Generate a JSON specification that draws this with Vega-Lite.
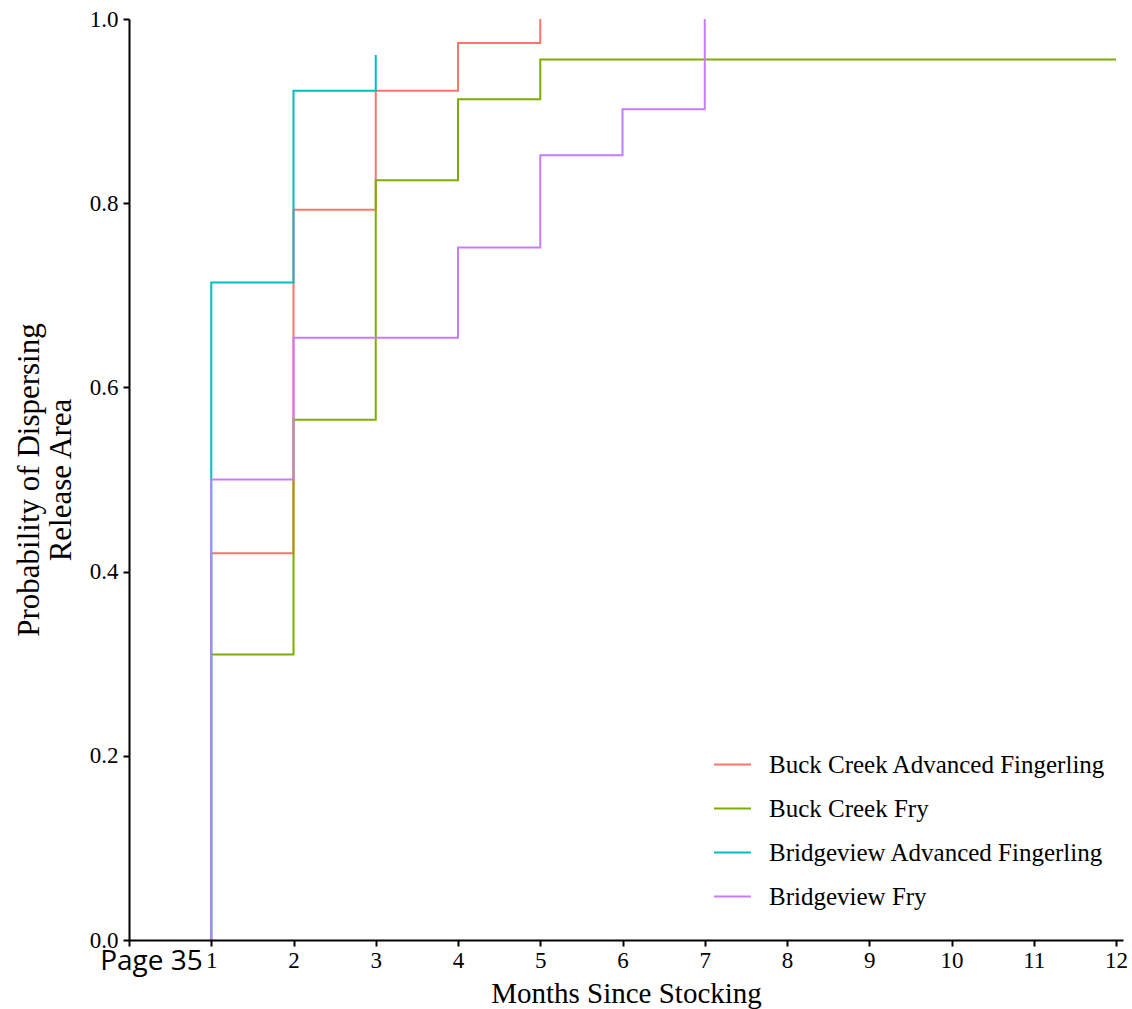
{
  "$schema": "https://vega.github.io/schema/vega-lite/v6.json",
  "width": 994,
  "height": 921,
  "autosize": {"type": "none"},
  "padding": {"left": 129, "top": 19, "right": 9, "bottom": 69},
  "background": "white",
  "config": {
    "view": {"stroke": null},
    "font": "Liberation Serif"
  },
  "datasets": {
    "km": [
      {"group": "Buck Creek Advanced Fingerling", "i": 0, "month": 1, "prob": 0},
      {"group": "Buck Creek Advanced Fingerling", "i": 1, "month": 1, "prob": 0.42},
      {"group": "Buck Creek Advanced Fingerling", "i": 2, "month": 2, "prob": 0.793},
      {"group": "Buck Creek Advanced Fingerling", "i": 3, "month": 3, "prob": 0.922},
      {"group": "Buck Creek Advanced Fingerling", "i": 4, "month": 4, "prob": 0.974},
      {"group": "Buck Creek Advanced Fingerling", "i": 5, "month": 5, "prob": 1.0},
      {"group": "Buck Creek Fry", "i": 0, "month": 1, "prob": 0},
      {"group": "Buck Creek Fry", "i": 1, "month": 1, "prob": 0.31},
      {"group": "Buck Creek Fry", "i": 2, "month": 2, "prob": 0.565},
      {"group": "Buck Creek Fry", "i": 3, "month": 3, "prob": 0.825},
      {"group": "Buck Creek Fry", "i": 4, "month": 4, "prob": 0.913},
      {"group": "Buck Creek Fry", "i": 5, "month": 5, "prob": 0.956},
      {"group": "Buck Creek Fry", "i": 6, "month": 12, "prob": 0.956},
      {"group": "Bridgeview Advanced Fingerling", "i": 0, "month": 1, "prob": 0},
      {"group": "Bridgeview Advanced Fingerling", "i": 1, "month": 1, "prob": 0.714},
      {"group": "Bridgeview Advanced Fingerling", "i": 2, "month": 2, "prob": 0.922},
      {"group": "Bridgeview Advanced Fingerling", "i": 3, "month": 3, "prob": 0.961},
      {"group": "Bridgeview Fry", "i": 0, "month": 1, "prob": 0},
      {"group": "Bridgeview Fry", "i": 1, "month": 1, "prob": 0.5},
      {"group": "Bridgeview Fry", "i": 2, "month": 2, "prob": 0.654},
      {"group": "Bridgeview Fry", "i": 3, "month": 4, "prob": 0.752},
      {"group": "Bridgeview Fry", "i": 4, "month": 5, "prob": 0.852},
      {"group": "Bridgeview Fry", "i": 5, "month": 6, "prob": 0.902},
      {"group": "Bridgeview Fry", "i": 6, "month": 7, "prob": 1.0}
    ],
    "page": [
      {"label": "Page 35", "month": -0.35, "prob": -0.033}
    ]
  },
  "layer": [
    {
      "data": {"name": "km"},
      "mark": {"type": "line", "interpolate": "step-after", "strokeWidth": 2},
      "encoding": {
        "x": {
          "field": "month", "type": "quantitative",
          "scale": {"domain": [0, 12.085], "nice": false, "zero": false},
          "axis": {
            "title": "Months Since Stocking",
            "values": [0,1,2,3,4,5,6,7,8,9,10,11,12],
            "format": "d",
            "labelExpr": "datum.value == 0 ? '' : datum.label",
            "grid": false,
            "domainColor": "black", "domainWidth": 2,
            "tickColor": "black", "tickWidth": 2, "tickSize": 6,
            "labelColor": "black", "labelFontSize": 23, "labelFont": "Liberation Serif",
            "labelPadding": 3, "labelFlush": false,
            "titleColor": "black", "titleFontSize": 29, "titleFont": "Liberation Serif",
            "titleFontWeight": "normal", "titlePadding": 7,
            "zindex": 1
          }
        },
        "y": {
          "field": "prob", "type": "quantitative",
          "scale": {"domain": [0, 1], "nice": false},
          "axis": {
            "title": ["Probability of Dispersing", "Release Area"],
            "values": [0, 0.2, 0.4, 0.6, 0.8, 1.0],
            "format": ".1f",
            "grid": false,
            "domainColor": "black", "domainWidth": 2,
            "tickColor": "black", "tickWidth": 2, "tickSize": 6,
            "labelColor": "black", "labelFontSize": 23, "labelFont": "Liberation Serif",
            "labelPadding": 5, "labelFlush": false,
            "titleColor": "black", "titleFontSize": 31, "titleFont": "Liberation Serif",
            "titleFontWeight": "normal", "titlePadding": 12, "titleLineHeight": 32,
            "zindex": 1
          }
        },
        "color": {
          "field": "group", "type": "nominal",
          "scale": {
            "domain": ["Buck Creek Advanced Fingerling", "Buck Creek Fry", "Bridgeview Advanced Fingerling", "Bridgeview Fry"],
            "range": ["#F8766D", "#7CAE00", "#00BFC4", "#C77CFF"]
          },
          "legend": {
            "title": null,
            "orient": "none",
            "legendX": 584,
            "legendY": 726,
            "symbolType": "stroke",
            "symbolSize": 1369,
            "symbolStrokeWidth": 2,
            "labelFontSize": 25,
            "labelFont": "Liberation Serif",
            "labelColor": "black",
            "labelOffset": 17,
            "rowPadding": 11,
            "labelLimit": 600
          }
        },
        "order": {"field": "i", "type": "quantitative"}
      }
    },
    {
      "data": {"name": "page"},
      "mark": {"type": "text", "align": "left", "baseline": "alphabetic", "font": "Open Sans", "fontSize": 28, "color": "black"},
      "encoding": {
        "x": {"field": "month", "type": "quantitative"},
        "y": {"field": "prob", "type": "quantitative"},
        "text": {"field": "label"}
      }
    }
  ]
}
